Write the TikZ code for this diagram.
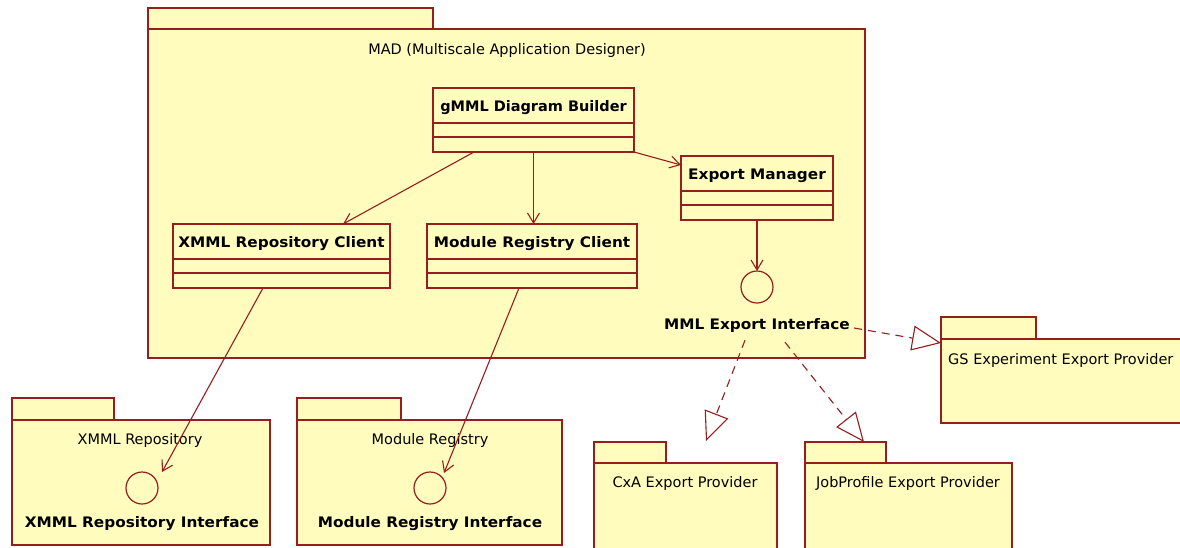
\documentclass[tikz,border=0pt]{standalone}
\usepackage{fontspec}
\setmainfont{DejaVu Sans}
\newfontfamily\umlbold{DejaVu Sans}[FakeStretch=1.055]
\newfontfamily\plainbold{DejaVu Sans}
\usetikzlibrary{arrows.meta,calc}

\definecolor{umlline}{RGB}{150,30,30}
\definecolor{umlfill}{RGB}{255,252,190}

\tikzset{
  classbox/.style={draw=umlline, fill=umlfill, line width=1.4pt, minimum height=64pt, inner sep=0pt, outer sep=0pt},
  pkgbox/.style={draw=umlline, fill=umlfill, line width=1.4pt, inner sep=0pt, outer sep=0pt},
  iface/.style={circle, draw=umlline, fill=umlfill, line width=1.2pt, minimum size=32pt, inner sep=0pt, outer sep=0pt},
  classname/.style={font=\umlbold\fontsize{14.5}{17}\selectfont\bfseries, inner sep=0pt, anchor=base},
  ilabel/.style={font=\umlbold\fontsize{14.5}{17}\selectfont\bfseries, inner sep=0pt, anchor=base},
  pkgname/.style={font=\fontsize{14.5}{17}\selectfont, inner sep=0pt, anchor=base},
  dep/.style={draw=umlline, line width=1.1pt, -{Straight Barb[length=10pt, width=12pt]}},
  real/.style={draw=umlline, line width=1.1pt, dash pattern=on 8pt off 6pt,
    -{Triangle[open, length=29pt, width=25pt]}},
}

% class with name compartment and two empty compartments
\newcommand{\umlclass}[5]{%
  \node[classbox, minimum width=#4pt, anchor=north west] (#1) at (#2,#3) {};
  \draw[umlline, line width=1.4pt]
    ([yshift=-35pt]#1.north west) -- ([yshift=-35pt]#1.north east)
    ([yshift=-49pt]#1.north west) -- ([yshift=-49pt]#1.north east);
  \node[classname] at ([yshift=-23pt]#1.north) {#5};
}

% package: tab on top of the body
\newcommand{\umlpackage}[7]{%
  \node[pkgbox, minimum width=#4pt, minimum height=#5pt, anchor=north west] (#1-tab) at (#2,#3) {};
  \node[pkgbox, minimum width=#6pt, minimum height=#7pt, anchor=north west] (#1) at (#1-tab.south west) {};
}

\begin{document}
\begin{tikzpicture}[x=1pt, y=-1pt]
\useasboundingbox (0,0) rectangle (1180,547);
\fill[white] (0,0) rectangle (1180,547);
\clip (0,0) rectangle (1180,547);

% packages
\umlpackage{mad}{148}{8}{285}{21}{717}{329}
\umlpackage{gs}{941}{317}{95}{22}{250}{84}
\umlpackage{cxa}{594}{442}{72}{21}{183}{95}
\umlpackage{job}{805}{442}{81}{21}{207}{95}
\umlpackage{xrep}{12}{398}{102}{22}{258}{125}
\umlpackage{mreg}{297}{398}{104}{22}{265}{125}

\node[pkgname] at (507,54) {MAD (Multiscale Application Designer)};
\node[pkgname, anchor=base west] at (948,364) {GS Experiment Export Provider};
\node[pkgname] at (685,487) {CxA Export Provider};
\node[pkgname] at (908,487) {JobProfile Export Provider};
\node[pkgname] at (140,444) {XMML Repository};
\node[pkgname] at (430,444) {Module Registry};

% classes inside MAD
\umlclass{gmml}{433}{88}{201}{{\plainbold gMML Diagram Builder}}
\umlclass{em}{681}{156}{152}{Export Manager}
\umlclass{xcl}{173}{224}{217}{XMML Repository Client}
\umlclass{mrc}{427}{224}{210}{Module Registry Client}

% interfaces
\node[iface] (ei) at (757,287) {};
\node[ilabel] (mml) at (757,329) {MML Export Interface};
\node[iface] (xri) at (142,488) {};
\node[ilabel] (xril) at (142,527) {XMML Repository Interface};
\node[iface] (mri) at (430,488) {};
\node[ilabel] (mril) at (430,527) {Module Registry Interface};

% dependencies
\draw[dep] ([xshift=41pt]gmml.south west) -- ([xshift=170pt]xcl.north west);
\draw[dep] (gmml.south) -- (gmml.south |- mrc.north);
\draw[dep] (gmml.south east) -- ([yshift=-9pt]em.north west);
\draw[dep] (em.south) -- (ei.north);
\draw[dep] ([xshift=90pt]xcl.south west) -- ($(xri.center)+(20,-16)$);
\draw[dep] ([xshift=92pt]mrc.south west) -- ($(mri.center)+(14,-15)$);

% realizations of the export interface
\draw[real] ($(mml.east)+(4,3)$) -- ([yshift=-4pt]gs.north west);
\draw[real] ($(mml.south)+(-12,8)$) -- ([xshift=112pt, yshift=22pt]cxa.north west);
\draw[real] ($(mml.south)+(28,10)$) -- ([xshift=59pt]job-tab.north west);
\end{tikzpicture}
\end{document}
